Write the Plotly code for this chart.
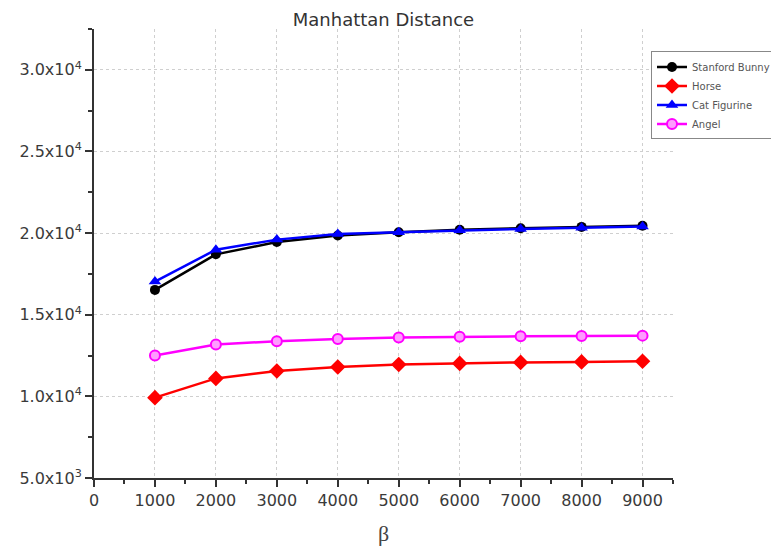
import plotly.graph_objects as go

beta = [1000, 2000, 3000, 4000, 5000, 6000, 7000, 8000, 9000]
bunny = [16520, 18700, 19450, 19850, 20050, 20200, 20300, 20380, 20450]
horse = [9920, 11100, 11550, 11800, 11950, 12020, 12080, 12110, 12150]
cat = [17030, 18980, 19600, 19950, 20050, 20170, 20250, 20320, 20400]
angel = [12500, 13170, 13380, 13520, 13600, 13650, 13680, 13700, 13720]

ytick_vals = [5000, 10000, 15000, 20000, 25000, 30000]
ytick_text = ["5.0x10<sup>3</sup>", "1.0x10<sup>4</sup>", "1.5x10<sup>4</sup>",
              "2.0x10<sup>4</sup>", "2.5x10<sup>4</sup>", "3.0x10<sup>4</sup>"]
xtick_vals = [0, 1000, 2000, 3000, 4000, 5000, 6000, 7000, 8000, 9000]

FONT = "DejaVu Sans, Liberation Sans, Arial, sans-serif"

fig = go.Figure()
fig.add_trace(go.Scatter(x=beta, y=bunny, name="Stanford Bunny", mode="lines+markers",
                         line=dict(color="black", width=2.5),
                         marker=dict(symbol="circle", size=10, color="black")))
fig.add_trace(go.Scatter(x=beta, y=horse, name="Horse", mode="lines+markers",
                         line=dict(color="red", width=2.5),
                         marker=dict(symbol="diamond", size=12, color="red")))
fig.add_trace(go.Scatter(x=beta, y=cat, name="Cat Figurine", mode="lines+markers",
                         line=dict(color="blue", width=2.5),
                         marker=dict(symbol="triangle-up", size=11, color="blue")))
fig.add_trace(go.Scatter(x=beta, y=angel, name="Angel", mode="lines+markers",
                         line=dict(color="magenta", width=2.5),
                         marker=dict(symbol="circle", size=10, color="#ff9cff",
                                     line=dict(color="magenta", width=2))))

axis_common = dict(showline=True, linecolor="#333333", linewidth=2, ticks="outside",
                   ticklen=7, tickwidth=2, tickcolor="#333333",
                   showgrid=True, gridcolor="#cfcfcf", griddash="dot", gridwidth=1,
                   zeroline=False, mirror=False, automargin=False,
                   tickfont=dict(family=FONT, size=16, color="#3a3a3a"))

fig.update_xaxes(range=[0, 9500], tickvals=xtick_vals,
                 minor=dict(ticks="outside", ticklen=4, tickwidth=2, tickcolor="#333333",
                            dtick=500, tick0=500, showgrid=False),
                 title=dict(text="β", font=dict(family="Liberation Serif, serif", size=22, color="#444444"),
                            standoff=16),
                 **axis_common)
fig.update_yaxes(range=[5000, 32500], tickvals=ytick_vals, ticktext=ytick_text,
                 minor=dict(ticks="outside", ticklen=4, tickwidth=2, tickcolor="#333333",
                            dtick=2500, tick0=7500, showgrid=False),
                 **axis_common)

fig.update_layout(
    width=771, height=544,
    margin=dict(l=86, r=106, t=21, b=74, autoexpand=False),
    plot_bgcolor="white", paper_bgcolor="white",
    title=dict(text="Manhattan Distance", x=0.5, xref="paper", xanchor="center",
               y=0.978, yanchor="middle",
               font=dict(family=FONT, size=18, color="#333333")),
    legend=dict(x=0.962, y=0.95, xanchor="left", yanchor="top",
                bordercolor="#888888", borderwidth=1, bgcolor="white",
                font=dict(family=FONT, size=10, color="#555555"),
                itemwidth=30, tracegroupgap=0),
    showlegend=True,
)

fig.write_html("out.html")
